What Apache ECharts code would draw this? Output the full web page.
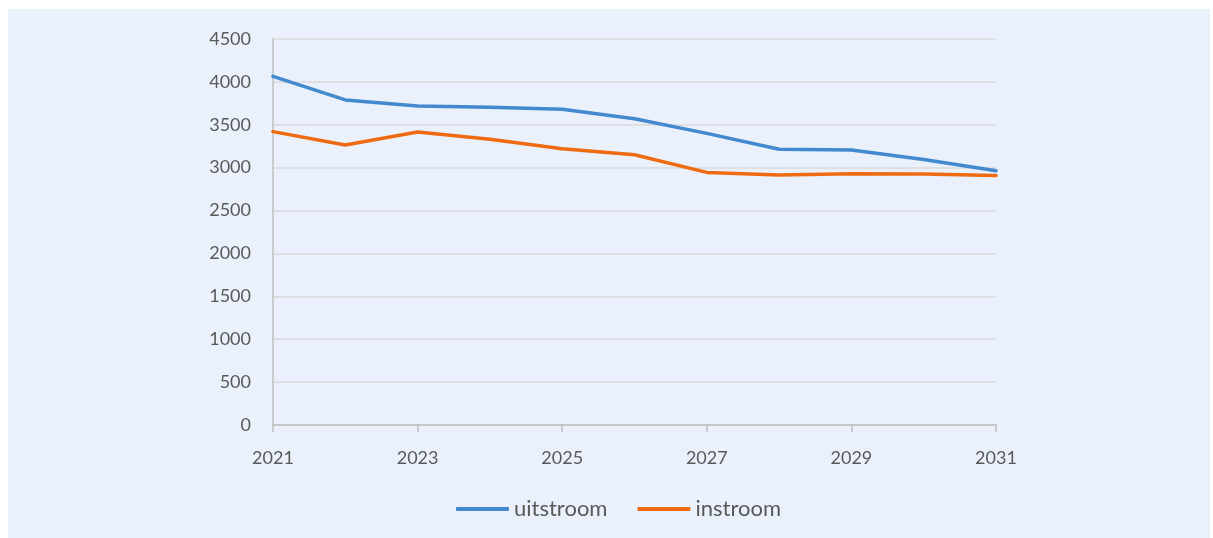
<!DOCTYPE html>
<html>
<head>
<meta charset="utf-8">
<script src="https://cdn.jsdelivr.net/npm/echarts@6/dist/echarts.min.js"></script>
<style>
  html, body { margin: 0; padding: 0; background: #ffffff; }
  #chart { position: absolute; left: 8px; top: 9px; width: 1202px; height: 529px; background: #eaf1fd; }
</style>
</head>
<body>
<div id="chart"></div>
<script>
const years = ['2021', '2022', '2023', '2024', '2025', '2026', '2027', '2028', '2029', '2030', '2031'];
const uitstroom = [4065, 3790, 3720, 3705, 3680, 3570, 3400, 3215, 3205, 3095, 2965];
const instroom = [3420, 3265, 3415, 3330, 3220, 3150, 2945, 2915, 2930, 2925, 2910];

const textColor = '#595959';
const font = 'Lato, "Open Sans", sans-serif';

const chart = echarts.init(document.getElementById('chart'));
chart.setOption({
    backgroundColor: 'transparent',
    animation: false,
    textStyle: { fontFamily: font },
    grid: { left: 265, right: 214, top: 30, bottom: 113 },
    legend: {
        bottom: 18,
        left: 448,
        padding: 0,
        icon: 'roundRect',
        itemWidth: 53,
        itemHeight: 4,
        itemGap: 30,
        textStyle: { fontSize: 22, color: textColor, fontFamily: font },
        data: ['uitstroom', 'instroom']
    },
    xAxis: {
        type: 'category',
        data: years,
        boundaryGap: false,
        axisLine: { lineStyle: { color: '#bfbfbf', width: 1.5 } },
        axisTick: { show: true, interval: 1, length: 7, lineStyle: { color: '#bfbfbf', width: 1.5 } },
        axisLabel: { interval: 1, margin: 24, fontSize: 18, color: textColor, fontFamily: font },
        splitLine: { show: false }
    },
    yAxis: {
        type: 'value',
        min: 0,
        max: 4500,
        interval: 500,
        axisLine: { show: true, lineStyle: { color: '#bfbfbf', width: 1.5 } },
        axisTick: { show: false },
        axisLabel: { margin: 22, fontSize: 18, color: textColor, fontFamily: font, formatter: v => String(v) },
        splitLine: { lineStyle: { color: '#d9d9d9', width: 1.5 } }
    },
    series: [
        {
            name: 'uitstroom',
            type: 'line',
            data: uitstroom,
            symbol: 'none',
            lineStyle: { width: 3.5, color: '#4389d0', cap: 'round' },
            itemStyle: { color: '#4389d0' }
        },
        {
            name: 'instroom',
            type: 'line',
            data: instroom,
            symbol: 'none',
            lineStyle: { width: 3.5, color: '#ee6b12', cap: 'round' },
            itemStyle: { color: '#ee6b12' }
        }
    ]
});
</script>
</body>
</html>
